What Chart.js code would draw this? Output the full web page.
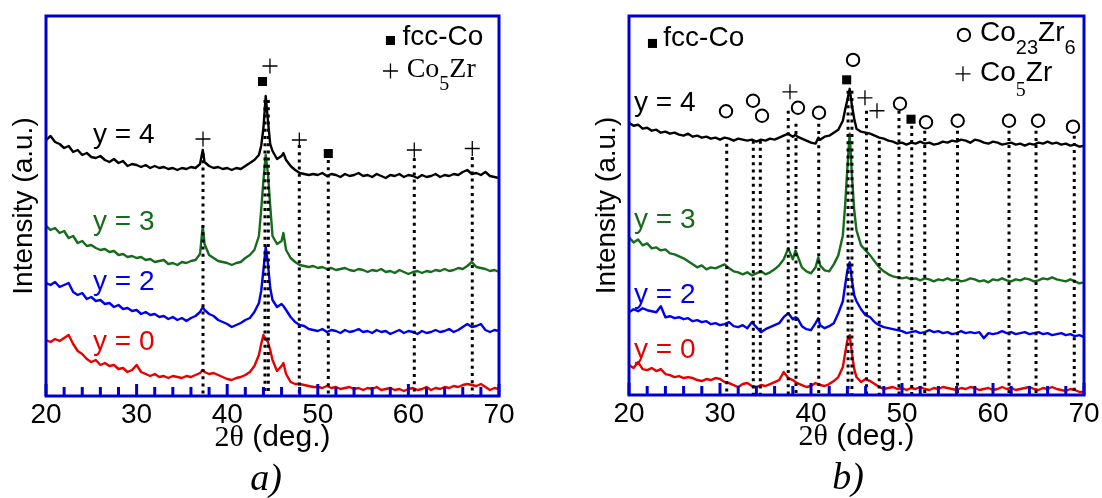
<!DOCTYPE html>
<html>
<head>
<meta charset="utf-8">
<title>XRD Co-Zr</title>
<script src="https://cdn.jsdelivr.net/npm/chart.js@4.4.1/dist/chart.umd.min.js"></script>
<style>
  html, body { margin: 0; padding: 0; background: #fff; }
  #wrap { position: relative; width: 1102px; height: 498px; }
  #wrap canvas { position: absolute; top: 0; }
  #panelA { left: 0; }
  #panelB { left: 551px; }
</style>
</head>
<body>
<div id="wrap">
  <canvas id="panelA" width="551" height="498"></canvas>
  <canvas id="panelB" width="551" height="498"></canvas>
</div>
<script>
// ---- panel a) : 2theta (deg) and intensities (a.u., curves offset) ----
const angleA = [20,20.5,21,21.5,22,22.5,23,23.5,24,24.5,25,25.5,26,26.5,27,27.5,28,28.5,29,29.5,30,30.5,31,31.5,32,32.5,33,33.5,34,34.5,35,35.5,36,36.5,37,37.3,37.5,38,38.5,39,39.5,40,40.5,41,41.5,42,42.5,43,43.5,43.75,44,44.25,44.5,44.75,45,45.5,46,46.2,46.5,47,47.5,48,48.5,49,49.5,50,50.5,51,51.5,52,52.5,53,53.5,54,54.5,55,55.5,56,56.5,57,57.5,58,58.5,59,59.5,60,60.5,61,61.5,62,62.5,63,63.5,64,64.5,65,65.5,66,66.5,67,67.5,68,68.5,69,69.5,70]
const y4A = [256,260,254,252,248,250,244,246,241,243,239,238,240,236,234,237,233,235,230,232,231,229,231,228,230,228,229,227,228,226,228,227,229,228,232,246,234,230,228,229,227,228,226,228,227,230,233,236,241,250,268,300,275,252,245,237,240,243,236,230,226,223,222,221,222,221,223,220,222,221,219,222,220,221,223,220,221,219,222,220,218,221,220,222,219,221,220,218,221,219,220,222,219,221,220,222,221,224,226,222,223,221,224,220,219,218]
const y3A = [170,166,168,163,165,158,160,153,155,150,151,148,146,147,144,145,141,142,139,140,138,139,136,137,134,135,136,132,133,131,134,133,135,136,142,170,152,141,138,135,134,133,131,133,134,138,141,146,160,186,216,241,222,190,160,152,155,163,146,138,134,131,130,129,130,128,129,127,128,126,127,128,126,125,127,126,124,126,125,127,124,125,123,126,124,122,124,125,123,125,124,126,125,127,125,126,128,127,130,134,129,128,127,125,126,124]
const y2A = [113,111,114,109,111,113,104,101,103,97,99,95,96,92,93,89,91,87,88,85,86,82,84,81,82,79,80,77,79,76,78,75,78,80,84,89,86,82,80,76,74,72,69,71,73,76,78,84,93,105,126,149,132,108,96,89,92,90,86,79,74,71,70,67,66,65,67,64,66,65,63,66,64,65,67,64,65,63,66,64,65,62,64,66,63,65,64,62,65,63,64,66,64,65,67,64,66,69,72,69,70,72,66,64,66,65]
const y0A = [56,54,57,55,58,61,52,45,42,37,34,36,31,33,30,31,27,28,24,26,31,24,22,20,22,19,20,18,20,19,18,20,19,21,23,26,24,22,23,21,19,17,16,18,19,21,24,30,41,52,61,57,54,46,36,25,30,33,22,14,12,12,11,10,9,9,8,10,8,9,7,8,9,7,8,6,8,7,9,6,7,8,6,7,5,7,8,6,7,9,6,8,7,9,8,10,9,11,12,11,10,12,9,6,8,7]
// reflections: dotted guide lines and phase marks (last two marks = legend symbols)
const lineXA = [37.33, 44.17, 44.54, 47.96, 51.16, 60.65, 67.05]
const lineTopA = [243, 296, 296, 251, 236, 238, 239]
const markXA = [37.33, 43.9, 44.72, 47.96, 51.16, 60.65, 67.05, 58.02, 58.02]
const markYA = [257, 314.5, 330, 256, 242.5, 246, 247.5, 355.5, 325]
const markTypeA = ['+', '■', '+', '+', '■', '+', '+', '■', '+']

// ---- panel b) ----
const angleB = [20,20.5,21,21.5,22,22.5,23,23.5,24,24.5,25,25.5,26,26.5,27,27.5,28,28.5,29,29.5,30,30.5,31,31.5,32,32.5,33,33.5,34,34.5,35,35.5,36,36.5,37,37.5,38,38.3,38.5,39,39.5,40,40.5,40.8,41,41.5,42,42.5,43,43.5,43.75,44,44.25,44.5,44.75,45,45.5,46,46.5,47,47.5,48,48.5,49,49.5,50,50.5,51,51.5,52,52.5,53,53.5,54,54.5,55,55.5,56,56.5,57,57.5,58,58.5,59,59.5,60,60.5,61,61.5,62,62.5,63,63.5,64,64.5,65,65.5,66,66.5,67,67.5,68,68.5,69,69.5,70]
const y4B = [273,270,271,267,268,265,266,263,264,262,263,261,260,262,259,260,258,259,257,258,256,258,257,255,257,256,255,256,254,256,255,257,256,258,260,262,259,261,259,257,255,253,252,258,256,259,260,263,266,275,286,296,307,290,277,267,264,263,262,260,258,257,255,254,252,253,251,253,252,254,252,253,251,252,254,253,255,254,256,255,253,256,255,253,252,254,253,251,252,253,251,252,250,252,251,253,252,254,252,253,251,252,250,251,249,250]
const y3B = [158,153,156,150,152,147,148,145,146,142,141,139,137,134,131,128,130,126,128,127,129,131,127,124,123,121,123,120,122,124,121,123,126,130,136,147,136,145,140,128,124,122,128,138,130,125,124,131,140,160,190,228,262,220,185,165,150,145,140,134,128,124,121,119,118,117,118,116,117,115,117,116,114,116,115,117,115,116,114,115,117,116,114,115,113,116,115,117,115,114,116,115,117,116,114,115,117,116,118,116,115,114,116,114,112,113]
const y2B = [83,86,84,87,85,84,83,89,78,79,77,78,76,77,74,75,73,74,71,72,70,71,73,69,68,70,67,73,68,63,66,68,70,72,78,82,76,78,77,69,66,65,72,77,70,67,69,72,82,94,110,125,133,115,100,94,86,80,78,73,70,68,67,66,65,64,62,63,64,62,63,65,63,64,62,63,61,62,64,62,63,62,63,57,62,61,62,64,62,63,61,62,63,61,62,63,61,62,60,61,62,60,61,59,60,58]
const y0B = [30,27,33,26,25,27,24,26,21,20,18,19,17,18,17,15,14,16,15,17,16,13,12,10,8,11,12,9,8,10,9,11,13,15,23,17,15,13,12,10,8,9,12,11,10,9,11,14,18,28,42,55,60,42,26,18,13,16,14,11,8,6,7,8,6,7,5,7,6,8,6,5,7,6,8,7,6,5,7,6,8,7,5,6,7,5,6,8,6,7,5,6,7,8,6,5,7,6,8,6,5,4,6,5,3,3]
const lineXB = [30.74, 33.66, 34.43, 37.5, 38.35, 40.85, 44.07, 44.5, 46.1, 47.5, 49.67, 51.07, 52.5, 56.1, 61.76, 64.73, 68.93]
const lineTopB = [252, 255, 255, 285, 272, 272, 305, 305, 285, 255, 285, 270, 265, 265, 265, 265, 260]
const markXB = [30.66, 33.63, 34.62, 37.69, 38.57, 40.88, 43.92, 44.62, 45.93, 47.25, 49.78, 50.99, 52.64, 56.12, 61.76, 64.95, 68.79, 22.58, 56.81, 56.7]
const markYB = [284.5, 295, 280, 304, 288, 283, 316, 336, 298, 285, 292, 276.5, 273.5, 275, 275, 275, 269, 352.5, 361, 322]
const markTypeB = ['o', 'o', 'o', '+', 'o', 'o', '■', 'o', '+', '+', 'o', '■', 'o', 'o', 'o', 'o', 'o', '■', 'o', '+']

const curveNames = ['y = 4', 'y = 3', 'y = 2', 'y = 0']
const curveColors = ['#000000', '#176b1c', '#0000ee', '#e80000']

const AXIS_BLUE = '#0000cc'
const SANS = '"Liberation Sans", Arial, sans-serif'
const SERIF = '"Liberation Serif", "Times New Roman", serif'

const markStyles = {
    '+': { pointStyle: 'cross', radius: 7.5, width: 1.3, fill: 'rgba(0,0,0,0)' },
    '■': { pointStyle: 'rect', radius: 6.4, width: 0, fill: '#000' },
    'o': { pointStyle: 'circle', radius: 6.2, width: 2, fill: 'rgba(0,0,0,0)' }
}

// text, axis frame and inward ticks
function decor(cfg) {
    return {
        id: 'decor',
        afterDraw(chart) {
            const { ctx, chartArea: a, scales: { x, y } } = chart
            ctx.save()
            ctx.strokeStyle = AXIS_BLUE
            ctx.lineWidth = 3
            x.ticks.forEach(t => {
                const px = x.getPixelForValue(t.value)
                const len = t.value % 10 === 0 ? 12 : 9
                ctx.beginPath()
                ctx.moveTo(px, a.bottom)
                ctx.lineTo(px, a.bottom - len)
                ctx.stroke()
            })
            ctx.strokeRect(a.left, a.top, a.right - a.left, a.bottom - a.top)

            ctx.textAlign = 'left'
            ctx.textBaseline = 'alphabetic'
            ctx.font = '28px ' + SANS
            cfg.labelY.forEach((v, i) => {
                ctx.fillStyle = curveColors[i]
                ctx.fillText(curveNames[i], x.getPixelForValue(cfg.labelX), y.getPixelForValue(v))
            })

            ctx.fillStyle = '#000'
            cfg.legend.forEach(item => {
                let px = x.getPixelForValue(item.x)
                const py = y.getPixelForValue(item.y)
                item.parts.forEach(([t, font, dy]) => {
                    ctx.font = font
                    ctx.fillText(t, px, py + (dy || 0))
                    px += ctx.measureText(t).width
                })
            })

            // x axis title, mixed fonts
            const title = [['2θ', '30px ' + SERIF], [' (deg.)', '30px ' + SANS]]
            let w = 0
            title.forEach(([t, f]) => { ctx.font = f; w += ctx.measureText(t).width })
            let tx = (a.left + a.right) / 2 - w / 2
            title.forEach(([t, f]) => {
                ctx.font = f
                ctx.fillText(t, tx, a.bottom + 50)
                tx += ctx.measureText(t).width
            })

            ctx.font = 'italic 38px ' + SERIF
            ctx.textAlign = 'center'
            ctx.fillText(cfg.caption, x.getPixelForValue(cfg.captionX), a.bottom + 94)
            ctx.restore()
        }
    }
}

function makePanel(id, cfg) {
    const curves = [cfg.y4, cfg.y3, cfg.y2, cfg.y0].map((vals, i) => ({
        data: cfg.angle.map((t, j) => ({ x: t, y: vals[j] })),
        borderColor: curveColors[i],
        borderWidth: 2.4,
        borderJoinStyle: 'round',
        pointRadius: 0,
        tension: 0,
        order: 2
    }))

    const guide = []
    cfg.lineX.forEach((v, i) => {
        guide.push({ x: v, y: cfg.lineTop[i] }, { x: v, y: 0 }, { x: v, y: null })
    })
    const guides = {
        data: guide,
        borderColor: '#000',
        borderWidth: 3,
        borderDash: [3, 4.2],
        borderCapStyle: 'butt',
        pointRadius: 0,
        spanGaps: false,
        order: 1
    }

    const marks = Object.keys(markStyles).map(type => {
        const s = markStyles[type]
        const pts = []
        cfg.markType.forEach((m, i) => { if (m === type) pts.push({ x: cfg.markX[i], y: cfg.markY[i] }) })
        return {
            data: pts,
            showLine: false,
            pointStyle: s.pointStyle,
            pointRadius: s.radius,
            pointBorderWidth: s.width,
            pointBorderColor: '#000',
            pointBackgroundColor: s.fill,
            order: 0
        }
    })

    return new Chart(document.getElementById(id), {
        type: 'line',
        data: { datasets: [...curves, guides, ...marks] },
        options: {
            responsive: false,
            animation: false,
            events: [],
            layout: { padding: { left: cfg.padLeft, top: 16, right: cfg.padRight, bottom: 0 } },
            plugins: { legend: { display: false }, tooltip: { enabled: false } },
            scales: {
                x: {
                    type: 'linear',
                    min: 20,
                    max: 70,
                    grid: { display: false, drawTicks: false },
                    border: { display: false },
                    ticks: {
                        stepSize: 2,
                        autoSkip: false,
                        maxRotation: 0,
                        padding: 2,
                        color: '#000',
                        font: { family: SANS, size: 28 },
                        callback: v => (v % 10 === 0 ? v : '')
                    },
                    afterFit: s => { s.height = cfg.xAxisHeight }
                },
                y: {
                    min: 0,
                    max: 380,
                    ticks: { display: false },
                    grid: { display: false },
                    border: { display: false },
                    title: {
                        display: true,
                        text: 'Intensity (a.u.)',
                        color: '#000',
                        font: { family: SANS, size: 28 },
                        padding: { top: 7, bottom: 0 }
                    },
                    afterFit: s => { s.width = 46 }
                }
            }
        },
        plugins: [decor(cfg)]
    })
}

makePanel('panelA', {
    angle: angleA, y4: y4A, y3: y3A, y2: y2A, y0: y0A,
    lineX: lineXA, lineTop: lineTopA,
    markX: markXA, markY: markYA, markType: markTypeA,
    labelX: 25.19, labelY: [253, 166, 106, 46],
    legend: [
        { x: 59.35, y: 351, parts: [['fcc-Co', '28px ' + SANS]] },
        { x: 59.81, y: 319, parts: [['Co', '28px ' + SERIF], ['5', '20px ' + SERIF, 13], ['Zr', '28px ' + SERIF]] }
    ],
    caption: 'a)', captionX: 44.28,
    padLeft: 0, padRight: 52, xAxisHeight: 102
})

makePanel('panelB', {
    angle: angleB, y4: y4B, y3: y3B, y2: y2B, y0: y0B,
    lineX: lineXB, lineTop: lineTopB,
    markX: markXB, markY: markYB, markType: markTypeB,
    labelX: 20.55, labelY: [285, 167, 92, 37],
    legend: [
        { x: 23.77, y: 350, parts: [['fcc-Co', '28px ' + SANS]] },
        { x: 58.57, y: 355, parts: [['Co', '28px ' + SANS], ['23', '20px ' + SANS, 13], ['Zr', '28px ' + SANS], ['6', '20px ' + SANS, 13]] },
        { x: 58.57, y: 315, parts: [['Co', '28px ' + SANS], ['5', '20px ' + SERIF, 15], ['Zr', '28px ' + SANS]] }
    ],
    caption: 'b)', captionX: 44.07,
    padLeft: 32, padRight: 18, xAxisHeight: 103
})
</script>
</body>
</html>
